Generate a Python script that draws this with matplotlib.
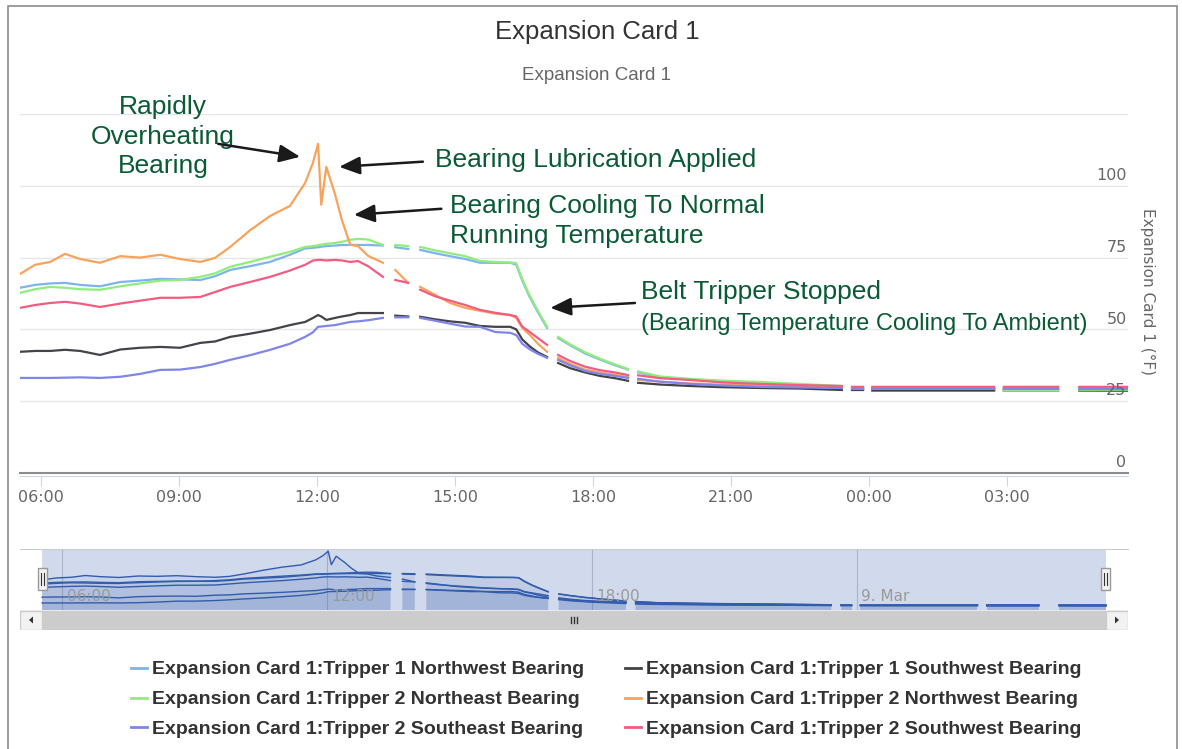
import numpy as np
import matplotlib.pyplot as plt
from matplotlib.patches import Rectangle, Polygon
from matplotlib.lines import Line2D

W, H = 1182, 749

# время в часах от 00:00 8 марта, None в рядах = разрыв данных
hours = [
    5.54, 5.87, 6.20, 6.52, 6.85, 7.28, 7.72, 8.15, 8.59, 9.02,
    9.46, 9.78, 10.11, 10.54, 10.98, 11.41, 11.74, 11.91, 12.02, 12.09,
    12.20, 12.39, 12.54, 12.72, 12.89, 13.11, 13.43, 13.56, 13.70, 13.98,
    14.11, 14.24, 14.57, 14.89, 15.22, 15.54, 15.87, 16.20, 16.33, 16.46,
    16.63, 16.80, 17.00, 17.12, 17.24, 17.50, 17.83, 18.15, 18.48, 18.76,
    18.87, 18.98, 19.46, 20.11, 20.76, 21.63, 22.50, 23.41, 23.52, 23.63,
    23.87, 23.97, 24.07, 25.33, 26.72, 26.82, 26.93, 28.11, 28.34, 28.57,
    29.63,
]

t1_nw = [
    64.5, 65.5, 66.0, 66.2, 65.5, 65.0, 66.5, 67.0, 67.6, 67.4,
    67.2, 68.5, 70.7, 72.0, 73.5, 76.0, 78.2, 78.4, 78.6, 78.8,
    79.0, 79.2, 79.4, 79.4, 79.4, 79.4, 79.2, None, 78.6, 78.0,
    None, 77.7, 76.5, 75.5, 74.5, 73.2, 73.2, 73.2, 72.5, 67.0,
    61.0, 56.0, 50.5, None, 47.0, 44.5, 41.6, 39.5, 37.5, 36.0,
    None, 35.0, 33.4, 32.5, 32.0, 31.4, 30.8, 30.0, None, 29.3,
    29.3, None, 29.3, 29.3, 29.3, None, 29.3, 29.3, None, 29.0,
    28.6,
]
t1_sw = [
    42.2, 42.5, 42.5, 42.9, 42.5, 41.1, 43.0, 43.6, 43.9, 43.6,
    45.3, 45.8, 47.4, 48.5, 49.8, 51.5, 52.6, 54.0, 55.0, 54.5,
    53.3, 54.0, 54.5, 55.0, 55.7, 55.7, 55.7, None, 54.8, 54.5,
    None, 54.4, 53.5, 52.8, 52.3, 51.2, 50.9, 50.9, 50.0, 46.5,
    44.0, 42.0, 40.4, None, 38.3, 36.5, 35.0, 33.8, 33.0, 32.1,
    None, 31.4, 30.8, 30.3, 29.9, 29.6, 29.4, 28.9, None, 28.9,
    28.9, None, 28.7, 28.7, 28.7, None, 28.7, 28.7, None, 28.7,
    28.7,
]
t2_ne = [
    62.7, 64.0, 64.8, 64.5, 64.0, 63.8, 65.0, 66.0, 67.0, 67.2,
    68.3, 69.5, 71.8, 73.5, 75.3, 77.0, 78.7, 79.0, 79.3, 79.5,
    79.8, 80.1, 80.5, 81.2, 81.5, 81.3, 79.4, None, 79.4, 79.0,
    None, 78.7, 77.5, 76.5, 75.5, 73.8, 73.5, 73.3, 73.0, 67.5,
    61.5, 56.5, 50.9, None, 47.4, 44.8, 42.0, 39.8, 37.8, 36.2,
    None, 35.4, 33.6, 32.8, 32.2, 31.7, 31.0, 30.3, None, 29.3,
    29.3, None, 29.3, 29.3, 29.3, None, 28.7, 28.7, None, 29.0,
    29.0,
]
t2_nw = [
    69.3, 72.5, 73.5, 76.3, 74.5, 73.2, 75.5, 75.0, 76.0, 74.5,
    73.5, 74.9, 78.7, 84.5, 89.5, 93.0, 101.0, 108.0, 114.6, 93.4,
    106.6, 97.0, 88.0, 79.5, 79.0, 75.6, 73.2, None, 70.7, 66.2,
    None, 64.8, 62.0, 59.2, 57.5, 56.5, 55.5, 55.0, 54.0, 50.5,
    48.0, 45.0, 42.2, None, 40.1, 38.0, 36.0, 35.0, 34.2, 33.4,
    None, 32.4, 31.8, 31.2, 30.8, 30.5, 30.3, 29.6, None, 29.3,
    29.3, None, 29.3, 29.3, 29.3, None, 29.3, 29.3, None, 29.3,
    29.3,
]
t2_se = [
    33.1, 33.1, 33.1, 33.2, 33.3, 33.1, 33.5, 34.5, 35.9, 36.0,
    36.9, 38.0, 39.4, 41.0, 42.9, 45.0, 47.4, 49.0, 50.9, 51.0,
    51.2, 51.5, 52.0, 52.6, 52.8, 53.2, 54.0, None, 54.2, 54.2,
    None, 54.0, 53.0, 52.0, 51.0, 50.9, 49.1, 48.8, 48.0, 45.0,
    43.0, 41.5, 40.1, None, 39.4, 37.5, 35.5, 34.5, 33.8, 33.1,
    None, 32.8, 31.8, 31.0, 30.5, 30.0, 29.8, 29.6, None, 29.3,
    29.3, None, 29.3, 29.3, 29.3, None, 29.3, 29.3, None, 29.3,
    29.3,
]
t2_sw = [
    57.5, 58.5, 59.2, 59.6, 59.0, 57.8, 59.0, 60.0, 61.0, 61.0,
    61.3, 63.0, 64.8, 66.5, 68.3, 70.5, 72.5, 74.0, 74.2, 74.2,
    74.0, 74.2, 74.0, 73.5, 73.8, 72.0, 68.3, None, 67.2, 66.2,
    None, 63.8, 61.5, 60.0, 58.5, 56.8, 55.8, 55.0, 54.5, 51.0,
    49.0, 47.0, 44.6, None, 41.1, 39.0, 37.0, 35.8, 35.0, 34.1,
    None, 34.0, 33.0, 32.4, 31.6, 31.0, 30.6, 30.3, None, 30.0,
    30.0, None, 30.0, 30.0, 30.0, None, 30.0, 30.0, None, 30.0,
    30.0,
]

names = [
    'Expansion Card 1:Tripper 1 Northwest Bearing',
    'Expansion Card 1:Tripper 1 Southwest Bearing',
    'Expansion Card 1:Tripper 2 Northeast Bearing',
    'Expansion Card 1:Tripper 2 Northwest Bearing',
    'Expansion Card 1:Tripper 2 Southeast Bearing',
    'Expansion Card 1:Tripper 2 Southwest Bearing',
]
values = [t1_nw, t1_sw, t2_ne, t2_nw, t2_se, t2_sw]
colors = ['#7cb5ec', '#434348', '#90ed7d', '#f7a35c', '#8085e9', '#f15c80']

x_ticks = [6, 9, 12, 15, 18, 21, 24, 27]
y_ticks = [0, 25, 50, 75, 100]
nav_ticks = [6, 12, 18, 24]
nav_labels = ['06:00', '12:00', '18:00', '9. Mar']

ARIAL = ['Liberation Sans', 'DejaVu Sans']
NOTE = '#0a5a36'


def fx(px):
    return px / W


def fy(py):
    return 1 - py / H


fig = plt.figure(figsize=(W / 100, H / 100), dpi=100)
fig.add_artist(Rectangle((fx(8), fy(760)), fx(1177) - fx(8), fy(6) - fy(760),
                         transform=fig.transFigure, fill=False, ec='#8c8c8c', lw=1.2))

# основной график
ax = fig.add_axes([fx(20), fy(473), fx(1128) - fx(20), fy(114) - fy(473)])
t = np.array(hours)
for vals, col in zip(values, colors):
    ax.plot(t, np.array(vals, dtype=float), color=col, lw=1.6, zorder=3)
ax.set_xlim(hours[0], hours[-1])
ax.set_ylim(0, 125)
ax.set_yticks([0, 25, 50, 75, 100, 125])
ax.yaxis.grid(True, color='#e6e6e6', lw=1)
ax.tick_params(axis='y', length=0, labelleft=False)
for s in ['top', 'left', 'right']:
    ax.spines[s].set_visible(False)
ax.spines['bottom'].set_position(('outward', 2))
ax.spines['bottom'].set_color('#ccd6eb')
ax.axhline(0, color='#8c8c8c', lw=1.5, zorder=2, clip_on=False)
ax.set_xticks(x_ticks)
ax.set_xticklabels([f'{h % 24:02d}:00' for h in x_ticks])
ax.tick_params(axis='x', length=7, color='#ccd6eb', labelcolor='#666666',
               labelsize=11.5, pad=3)
for v in y_ticks:
    ax.annotate(str(v), xy=(1, v), xycoords=ax.get_yaxis_transform(),
                xytext=(-1, 2), textcoords='offset points', ha='right',
                va='bottom', color='#666666', fontsize=11.5)

fig.text(fx(1148), fy(291), 'Expansion Card 1 (°F)', rotation=-90,
         ha='center', va='center', color='#666666', fontsize=11)
fig.text(fx(597), fy(32), 'Expansion Card 1', ha='center', va='center',
         fontsize=18.5, color='#333333', family=ARIAL)
fig.text(fx(597), fy(75), 'Expansion Card 1', ha='center', va='center',
         fontsize=13.5, color='#666666', family=ARIAL)

# подписи со стрелками
arrow = dict(arrowstyle='-|>,head_length=0.7,head_width=0.3', color='#1a1a1a',
             lw=1.8, mutation_scale=18, shrinkA=0, shrinkB=0)
ax.text(8.65, 117.1, 'Rapidly\nOverheating\nBearing', ha='center', va='center',
        color=NOTE, fontsize=19, family=ARIAL, linespacing=1.3, clip_on=False)
ax.annotate('', xy=(11.63, 110.1), xytext=(9.85, 114.6), arrowprops=arrow,
            annotation_clip=False)
ax.text(14.57, 109.1, 'Bearing Lubrication Applied', ha='left', va='center',
        color=NOTE, fontsize=19, family=ARIAL)
ax.annotate('', xy=(12.48, 106.6), xytext=(14.30, 108.4), arrowprops=arrow)
ax.text(14.89, 87.8, 'Bearing Cooling To Normal\nRunning Temperature',
        ha='left', va='center', color=NOTE, fontsize=19, family=ARIAL,
        linespacing=1.3)
ax.annotate('', xy=(12.80, 89.9), xytext=(14.70, 92.0), arrowprops=arrow)
ax.text(19.04, 63.1, 'Belt Tripper Stopped', ha='left', va='center',
        color=NOTE, fontsize=19, family=ARIAL)
ax.text(19.04, 51.9, '(Bearing Temperature Cooling To Ambient)', ha='left',
        va='center', color=NOTE, fontsize=17, family=ARIAL)
ax.annotate('', xy=(17.07, 57.5), xytext=(18.91, 59.2), arrowprops=arrow)

# навигатор
nav = fig.add_axes([fx(20), fy(610), fx(1128) - fx(20), fy(549) - fy(610)])
nav.set_xlim(5.04, 30.13)
nav.set_ylim(22, 118)
nav.axvspan(hours[0], hours[-1], color=(0.4, 0.52, 0.76, 0.3), lw=0, zorder=1)
for vals in values:
    y = np.array(vals, dtype=float)
    nav.fill_between(t, y, 22, color='#335cad', alpha=0.05, lw=0, zorder=2)
    nav.plot(t, y, color='#335cad', lw=1, zorder=3)
for h, lab in zip(nav_ticks, nav_labels):
    nav.axvline(h, color='#aab4c8', lw=0.8, zorder=1.5)
    nav.annotate(lab, xy=(h, 0), xycoords=nav.get_xaxis_transform(),
                 xytext=(3, 4), textcoords='offset points', ha='left',
                 va='bottom', color='#999999', fontsize=11, zorder=4)
nav.set_xticks([])
nav.set_yticks([])
for s in ['bottom', 'left', 'right']:
    nav.spines[s].set_visible(False)
nav.spines['top'].set_color('#cccccc')

for h in (hours[0], hours[-1]):
    xh = nav.transData.transform((h, 50))[0] / W
    fig.add_artist(Rectangle((xh - fx(4.5), fy(590)), fx(9), fy(568) - fy(590),
                             transform=fig.transFigure, fc='#f2f2f2',
                             ec='#999999', lw=1, zorder=5))
    for dx in (-1.5, 1.5):
        fig.add_artist(Line2D([xh + fx(dx)] * 2, [fy(585), fy(573)],
                              transform=fig.transFigure, color='#333333',
                              lw=0.8, zorder=6))

# полоса прокрутки
sb = fig.add_axes([fx(20), fy(630), fx(1128) - fx(20), fy(610) - fy(630)])
sb.set_xlim(0, 1108)
sb.set_ylim(20, 0)
sb.axis('off')
sb.add_patch(Rectangle((0, 0), 1108, 20, fc='#f2f2f2', ec='#f2f2f2'))
sb.add_patch(Rectangle((22, 0.5), 1064, 19, fc='#cccccc', ec='#cccccc'))
for x0 in (0, 1086):
    sb.add_patch(Rectangle((x0, 0.5), 22, 19, fc='#f2f2f2', ec='#cccccc', lw=1))
sb.add_patch(Polygon([[9, 10], [13, 6.5], [13, 13.5]], fc='#333333'))
sb.add_patch(Polygon([[1099, 10], [1095, 6.5], [1095, 13.5]], fc='#333333'))
for gx in (551, 554, 557):
    sb.plot([gx, gx], [7, 13], color='#333333', lw=1)

# легенда
rows_y = [668, 698, 727]
cols_x = [131, 625]
for i, (name, col) in enumerate(zip(names, colors)):
    xs, ys = cols_x[i % 2], rows_y[i // 2]
    fig.add_artist(Line2D([fx(xs), fx(xs + 16)], [fy(ys), fy(ys)],
                          transform=fig.transFigure, color=col, lw=2))
    fig.text(fx(xs + 21), fy(ys), name, ha='left', va='center_baseline',
             fontsize=14, fontweight='bold', color='#333333', family=ARIAL)

fig.savefig('out.png', dpi=100)
